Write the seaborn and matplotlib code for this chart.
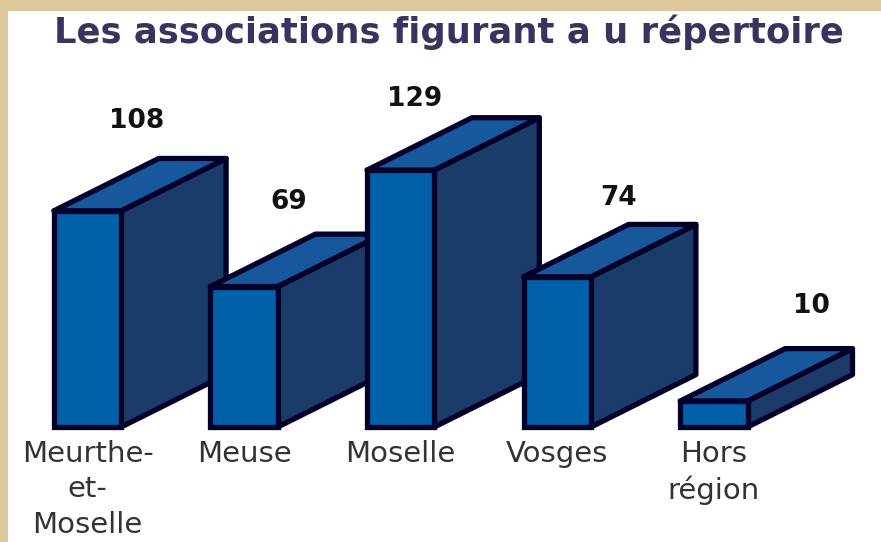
import matplotlib
matplotlib.use("Agg")
import matplotlib.pyplot as plt
from matplotlib.patches import Polygon, Rectangle
import pandas as pd
import seaborn as sns

# data
categories = ["Meurthe-\net-\nMoselle", "Meuse", "Moselle", "Vosges", "Hors\nrégion"]
counts = [108, 69, 129, 74, 10]

# label offsets, pixels from the back top corner of each box
label_dx = [-89, -94, -125, -77, -41]
label_dy = [37, 32, 19, 26, 43]

title = "Les associations figurant a u répertoire"

# colours
tan = "#DCC89B"
front_col = "#0060A8"
top_col = "#17589C"
side_col = "#1B3C68"
edge_col = "#00002A"

# box geometry, in data units
bar_width = 0.43
depth_x = 0.67
depth_y = 27
base = -3.4
edge_lw = 3.8

sns.set_style("white")
fig = plt.figure(figsize=(8.81, 5.42), dpi=100, facecolor="white")

# tan band on the left and top
fig.add_artist(Rectangle((0, 0), 8 / 881, 1, transform=fig.transFigure, color=tan, lw=0))
fig.add_artist(Rectangle((0, 1 - 11 / 542), 1, 11 / 542, transform=fig.transFigure, color=tan, lw=0))

ax = fig.add_axes([8 / 881, 115 / 542, 873 / 881, 416 / 542])
df = pd.DataFrame({"cat": categories, "n": counts})
sns.barplot(data=df, x="cat", y="n", color=front_col, saturation=1, width=bar_width,
            edgecolor=edge_col, linewidth=edge_lw, ax=ax)

ax.set_xlim(-0.5077, 5.067)
ax.set_ylim(base, 211)

# turn each bar into a box: front from the baseline, then top and side faces
for i, (p, n) in enumerate(zip(ax.patches, counts)):
    left = p.get_x()
    right = left + p.get_width()
    p.set_y(base)
    p.set_height(n - base)
    p.set_facecolor(front_col)
    p.set_zorder(3 * i + 4)
    p.set_clip_on(False)
    p.set_joinstyle("miter")

    top_face = Polygon(
        [(left, n), (left + depth_x, n + depth_y), (right + depth_x, n + depth_y), (right, n)],
        facecolor=top_col, edgecolor=edge_col, lw=edge_lw, zorder=3 * i + 3, clip_on=False,
        joinstyle="round",
    )
    side_face = Polygon(
        [(right, base), (right + depth_x, base + depth_y), (right + depth_x, n + depth_y), (right, n)],
        facecolor=side_col, edgecolor=edge_col, lw=edge_lw, zorder=3 * i + 2, clip_on=False,
        joinstyle="round",
    )
    ax.add_patch(side_face)
    ax.add_patch(top_face)

    ax.annotate(str(n), xy=(right + depth_x, n + depth_y), xytext=(label_dx[i], label_dy[i]),
                textcoords="offset pixels", ha="center", va="center",
                fontsize=19, fontweight="bold", color="#111111", zorder=40)

ax.set_xlabel("")
ax.set_ylabel("")
ax.set_yticks([])
ax.tick_params(axis="x", length=0, pad=9, labelsize=21, labelcolor="#333333")
for lab in ax.get_xticklabels():
    lab.set_linespacing(1.36)
ax.patch.set_alpha(0)
sns.despine(ax=ax, left=True, bottom=True)

fig.text(449 / 881, 1 - 43 / 542, title, ha="center", va="baseline",
         fontsize=25.5, fontweight="bold", color="#38345E")

fig.savefig("out.png", dpi=100, facecolor=fig.get_facecolor())
